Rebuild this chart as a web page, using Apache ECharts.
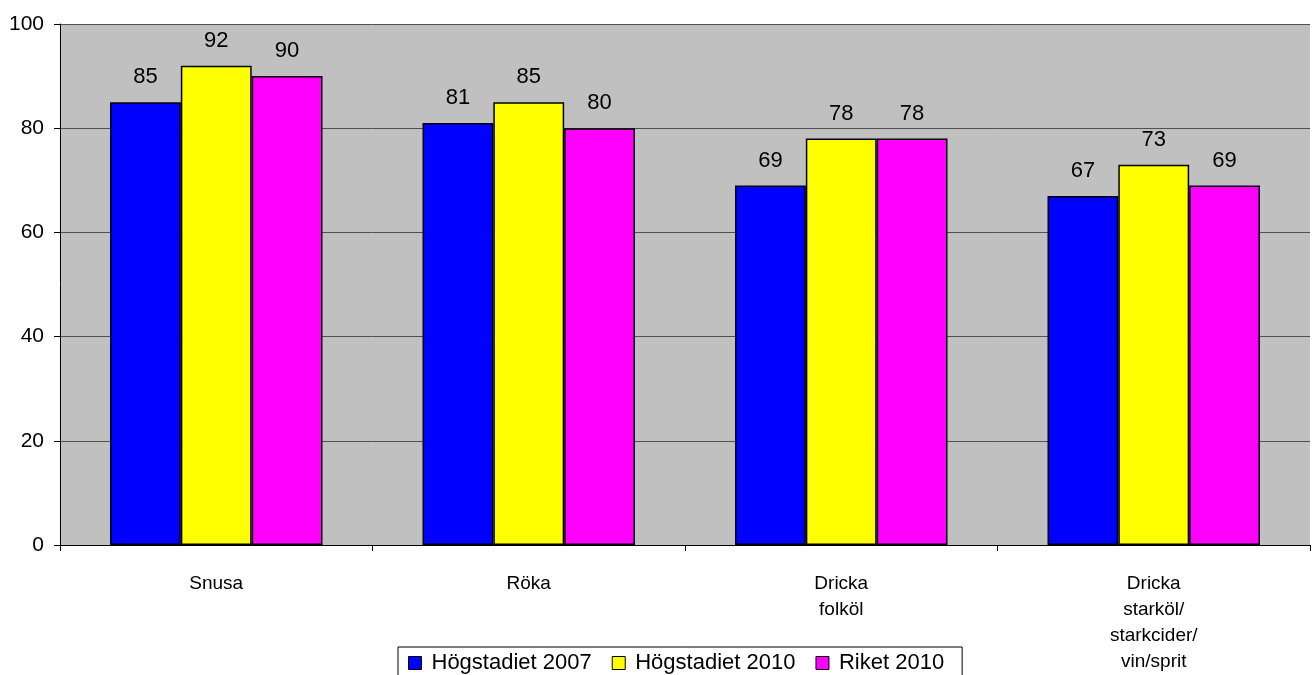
<!DOCTYPE html>
<html><head><meta charset="utf-8">
<script src="https://cdn.jsdelivr.net/npm/echarts@6/dist/echarts.min.js"></script>
<style>html,body{margin:0;padding:0;background:#fff}#c{width:1313px;height:675px}</style>
</head><body><div id="c"></div>
<script>
const categories = ["Snusa", "Röka", "Dricka\nfolköl", "Dricka\nstarköl/\nstarkcider/\nvin/sprit"];
const seriesNames = ["Högstadiet 2007", "Högstadiet 2010", "Riket 2010"];
const hog2007 = [85, 81, 69, 67];
const hog2010 = [92, 85, 78, 73];
const riket2010 = [90, 80, 78, 69];
const colors = ["#0000FF", "#FFFF00", "#FF00FF"];
const font = "Liberation Sans, Arial, sans-serif";
const chart = echarts.init(document.getElementById('c'), null, {renderer: 'canvas'});
const mk = (name, data, color) => ({
  name, type: 'bar', data,
  barGap: '0%', barCategoryGap: '32%',
  itemStyle: {color, borderColor: '#000', borderWidth: 1.5},
  label: {show: true, position: 'top', distance: 14, color: '#000', fontFamily: font, fontSize: 22},
  animation: false
});
chart.setOption({
  animation: false,
  backgroundColor: '#fff',
  grid: {left: 60, right: 3, top: 24, bottom: 130, backgroundColor: '#C0C0C0', show: true, borderWidth: 0},
  legend: {
    data: seriesNames, left: 398, top: 647, padding: [5, 18, 8, 10],
    backgroundColor: '#fff', borderColor: '#000', borderWidth: 1,
    icon: 'rect', itemWidth: 13, itemHeight: 13, itemGap: 20,
    textStyle: {fontFamily: font, fontSize: 22, color: '#000', padding: [0, 0, 0, 5]},
    itemStyle: {borderColor: '#000', borderWidth: 1}
  },
  xAxis: {
    type: 'category', data: categories,
    axisLine: {lineStyle: {color: '#000', width: 1}},
    axisTick: {show: true, length: 6, lineStyle: {color: '#000'}},
    axisLabel: {fontFamily: font, fontSize: 19, color: '#000', margin: 26, lineHeight: 26, align: 'center', verticalAlign: 'top'}
  },
  yAxis: {
    type: 'value', min: 0, max: 100, interval: 20,
    axisLine: {show: true, lineStyle: {color: '#000', width: 1}},
    axisTick: {show: true, length: 6, lineStyle: {color: '#000'}},
    splitLine: {lineStyle: {color: '#505050', width: 1}},
    axisLabel: {fontFamily: font, fontSize: 21, color: '#000', margin: 16}
  },
  series: [mk(seriesNames[0], hog2007, colors[0]), mk(seriesNames[1], hog2010, colors[1]), mk(seriesNames[2], riket2010, colors[2])]
});
</script></body></html>
